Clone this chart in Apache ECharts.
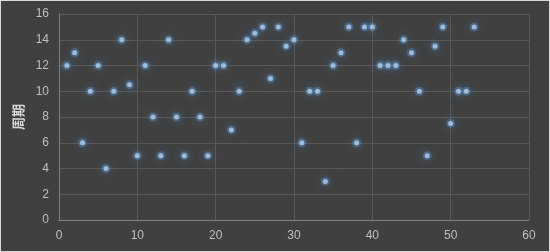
<!DOCTYPE html>
<html><head><meta charset="utf-8">
<script src="https://cdn.jsdelivr.net/npm/echarts@6/dist/echarts.min.js"></script>
<style>
html,body{margin:0;padding:0;background:#404040;}
#c{width:548px;height:250px;border:1px solid #d9d9d9;}
</style></head>
<body><div id="c"></div>
<script>
const xValues = [1,2,3,4,5,6,7,8,9,10,11,12,13,14,15,16,17,18,19,20,21,22,23,24,25,26,27,28,29,30,31,32,33,34,35,36,37,38,39,40,41,42,43,44,45,46,47,48,49,50,51,52,53];
const yValues = [12,13,6,10,12,4,10,14,10.5,5,12,8,5,14,8,5,10,8,5,12,12,7,10,14,14.5,15,11,15,13.5,14,6,10,10,3,12,13,15,6,15,15,12,12,12,14,13,10,5,13.5,15,7.5,10,10,15];
const yAxisName = '周期';

const chart = echarts.init(document.getElementById('c'), null, {renderer:'canvas'});
chart.setOption({
  backgroundColor:'#404040',
  animation:false,
  grid:{left:58,right:20,top:13,bottom:31},
  xAxis:{type:'value',min:0,max:60,interval:10,
    axisLine:{show:true,lineStyle:{color:'#7f7f7f',width:1}},
    axisTick:{show:false},
    axisLabel:{color:'#bfbfbf',fontSize:12,margin:10,fontFamily:'Liberation Sans, Arial, sans-serif'},
    splitLine:{show:true,lineStyle:{color:'#595959',width:1}}
  },
  yAxis:{type:'value',min:0,max:16,interval:2,
    name:yAxisName,nameLocation:'middle',nameGap:31,nameRotate:90,
    nameTextStyle:{color:'#d9d9d9',fontSize:13,fontWeight:'bold',fontFamily:'Noto Sans CJK SC'},
    axisLine:{show:true,lineStyle:{color:'#7f7f7f',width:1}},
    axisTick:{show:false},
    axisLabel:{color:'#bfbfbf',fontSize:12,margin:10,fontFamily:'Liberation Sans, Arial, sans-serif'},
    splitLine:{show:true,lineStyle:{color:'#595959',width:1}}
  },
  series:[
    {type:'scatter',symbol:'circle',symbolSize:9,silent:true,
      data:xValues.map((x,i)=>[x,yValues[i]]),
      itemStyle:{color:'rgba(91,155,213,0.45)',shadowBlur:8,shadowColor:'rgba(91,155,213,0.9)'}
    },
    {type:'scatter',symbol:'circle',symbolSize:5,
      data:xValues.map((x,i)=>[x,yValues[i]]),
      itemStyle:{color:'#b4d0ef'}
    }
  ]
});
</script></body></html>
